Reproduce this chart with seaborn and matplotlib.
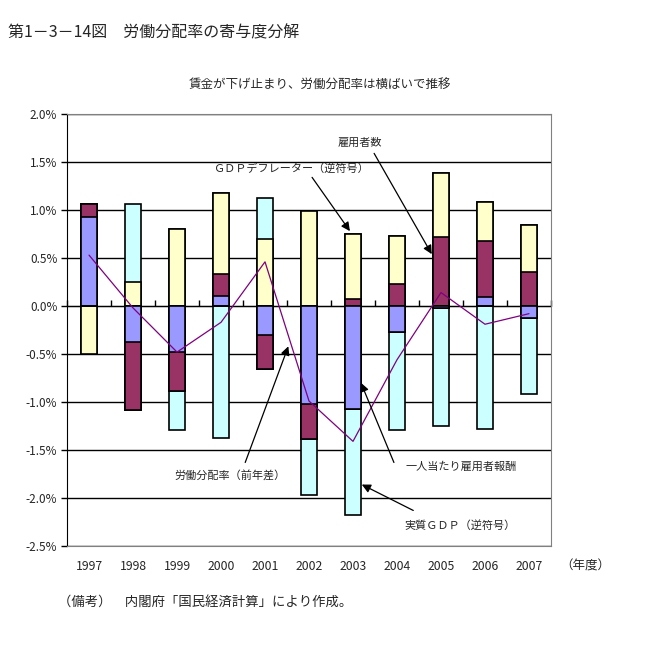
import numpy as np
import pandas as pd
import matplotlib
matplotlib.use("Agg")
import matplotlib.pyplot as plt
import seaborn as sns
from matplotlib.ticker import FuncFormatter

# data (percent, contribution to yoy change)
years = ['1997', '1998', '1999', '2000', '2001', '2002', '2003', '2004', '2005', '2006', '2007']
comp_per_employee = [0.93, -0.38, -0.48, 0.10, -0.30, -1.02, -1.07, -0.27, -0.02, 0.09, -0.13]
employees = [0.13, -0.70, -0.41, 0.23, -0.36, -0.37, 0.07, 0.23, 0.72, 0.59, 0.35]
gdp_deflator_inv = [-0.50, 0.25, 0.80, 0.85, 0.70, 0.99, 0.68, 0.50, 0.67, 0.40, 0.49]
real_gdp_inv = [0.00, 0.81, -0.40, -1.37, 0.42, -0.58, -1.11, -1.02, -1.23, -1.28, -0.79]
labor_share_diff = [0.53, -0.02, -0.48, -0.17, 0.46, -0.99, -1.41, -0.56, 0.14, -0.19, -0.08]

series_names = ['一人当たり雇用者報酬', '雇用者数', 'GDPデフレーター（逆符号）', '実質GDP（逆符号）']
series_colors = ['#9999FF', '#993366', '#FFFFCC', '#CCFFFF']

sns.set_style("white")
plt.rcParams['font.family'] = ['Noto Sans CJK JP', 'DejaVu Sans']
plt.rcParams['axes.unicode_minus'] = False

df = pd.DataFrame({
    'year': years,
    series_names[0]: comp_per_employee,
    series_names[1]: employees,
    series_names[2]: gdp_deflator_inv,
    series_names[3]: real_gdp_inv,
})

fig = plt.figure(figsize=(6.59, 6.59), dpi=100)
ax = fig.add_axes([0.1017, 0.1715, 0.7344, 0.6555])

# stacked bars: positives stack up, negatives stack down (Excel style)
vals = df[series_names].to_numpy()
pos_cum = np.cumsum(np.clip(vals, 0, None), axis=1)
neg_cum = np.cumsum(np.clip(vals, None, 0), axis=1)

for cum in (pos_cum, neg_cum):
    # draw outer layers first so inner ones sit on top
    for k in range(len(series_names) - 1, -1, -1):
        sns.barplot(x=df['year'], y=cum[:, k], color=series_colors[k], saturation=1,
                    width=0.38, edgecolor='black', linewidth=1.2, errorbar=None, ax=ax)

sns.lineplot(x=np.arange(len(years)), y=labor_share_diff, color='#800080',
             linewidth=0.9, ax=ax)

ax.set_xlim(-0.5, len(years) - 0.5)
ax.set_ylim(-2.5, 2.0)
ax.set_yticks(np.arange(-2.5, 2.01, 0.5))
ax.yaxis.set_major_formatter(FuncFormatter(lambda v, p: f'{v:.1f}%'))
ax.set_xlabel('')
ax.set_ylabel('')
ax.grid(axis='y', color='black', linewidth=1)
ax.set_axisbelow(True)

for side in ['top', 'right', 'bottom']:
    ax.spines[side].set_color('#808080')
ax.spines['left'].set_color('black')
ax.tick_params(axis='y', length=4, width=1, color='black', labelsize=8.5, pad=3, left=True)
ax.tick_params(axis='x', length=0, labelsize=8.8, pad=10)

# category axis crossing at zero, tick marks between categories
zero_loc = 2.5 / 4.5
sec = ax.secondary_xaxis(zero_loc)
sec.set_xticks(np.arange(-0.5, len(years), 1.0))
sec.tick_params(direction='out', length=4, width=1, color='black', labeltop=False, labelbottom=False)
sec.spines['top'].set_color('black')

# annotations
arrow = dict(arrowstyle='-|>', color='black', lw=0.9, mutation_scale=13, shrinkA=0, shrinkB=0)
ax.text(6.16, 1.70, '雇用者数', fontsize=8, ha='center', va='center')
ax.annotate('', xy=(7.79, 0.54), xytext=(6.48, 1.59), arrowprops=arrow)
ax.text(4.59, 1.43, 'ＧＤＰデフレーター（逆符号）', fontsize=8, ha='center', va='center')
ax.annotate('', xy=(5.93, 0.78), xytext=(5.07, 1.34), arrowprops=arrow)
ax.text(3.2, -1.76, '労働分配率（前年差）', fontsize=8, ha='center', va='center')
ax.annotate('', xy=(4.53, -0.42), xytext=(3.55, -1.63), arrowprops=arrow)
ax.text(8.45, -1.67, '一人当たり雇用者報酬', fontsize=8, ha='center', va='center')
ax.annotate('', xy=(6.18, -0.80), xytext=(6.93, -1.63), arrowprops=arrow)
ax.text(8.43, -2.29, '実質ＧＤＰ（逆符号）', fontsize=8, ha='center', va='center')
ax.annotate('', xy=(6.20, -1.86), xytext=(7.37, -2.13), arrowprops=arrow)

fig.text(8 / 659, 1 - 33 / 659, '第1－3－14図　労働分配率の寄与度分解', fontsize=11.5, ha='left', va='center')
fig.text(320 / 659, 1 - 85 / 659, '賃金が下げ止まり、労働分配率は横ばいで推移', fontsize=9, ha='center', va='center')
fig.text(585 / 659, 1 - 566 / 659, '（年度）', fontsize=9, ha='center', va='center')
fig.text(58 / 659, 1 - 602 / 659, '（備考）　内閣府「国民経済計算」により作成。', fontsize=9.6, ha='left', va='center')

plt.savefig('out.png', dpi=100)
plt.close()
